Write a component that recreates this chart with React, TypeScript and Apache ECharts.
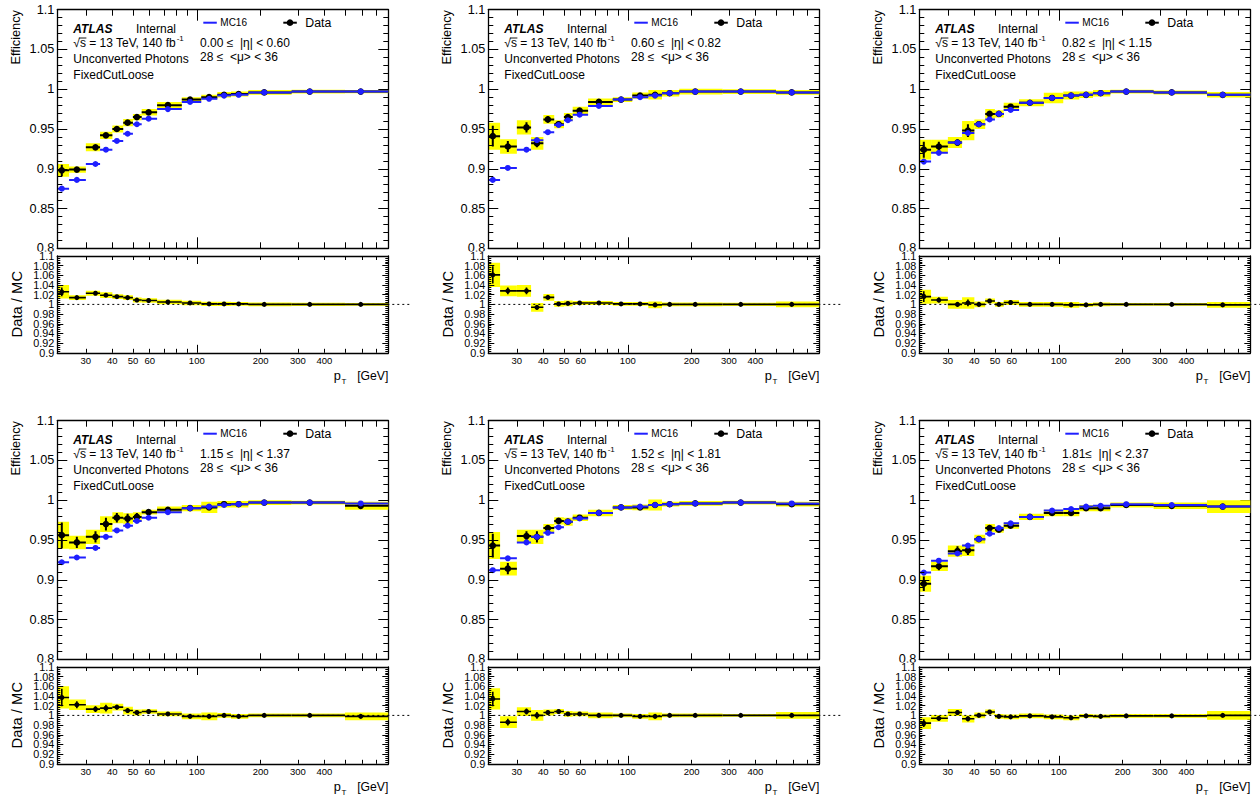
import React, { useEffect, useRef } from 'react';
import * as echarts from 'echarts';

// ---------------- data ----------------
const PT_EDGES = [22, 25, 30, 35, 40, 45, 50, 55, 65, 85, 105, 125, 145, 175, 280, 500, 800];
const PT_MEAN = [23.1, 27.2, 33.3, 37.3, 42.0, 47.2, 52.2, 59.3, 73.1, 93.0, 114.3, 134.5, 157.6, 208, 341, 593];
const X_MIN = 22;
const X_MAX = 800;
const X_TICK_LABELS = [30, 40, 50, 60, 100, 200, 300, 400];
const X_MINOR_TICKS = [30, 40, 50, 60, 70, 80, 90, 200, 300, 400, 500, 600, 700];
const X_MAJOR_TICKS = [100];
const DOTTED_LINE_X = [22, 1015];
const RATIO_LABELS_A = [0.9, 0.94, 0.98, 1.02, 1.06, 1.1];
const RATIO_LABELS_B = [0.92, 0.96, 1, 1.04, 1.08];

const ETA_LABELS = [
  '0.00 \u2264  |\u03b7| < 0.60',
  '0.60 \u2264  |\u03b7| < 0.82',
  '0.82 \u2264  |\u03b7| < 1.15',
  '1.15 \u2264  |\u03b7| < 1.37',
  '1.52 \u2264  |\u03b7| < 1.81',
  '1.81\u2264  |\u03b7| < 2.37',
];

const DATA_EFF = [
  [0.898, 0.899, 0.927, 0.942, 0.950, 0.958, 0.965, 0.971, 0.980, 0.987, 0.990, 0.993, 0.994, 0.996, 0.997, 0.997],
  [0.941, 0.928, 0.952, 0.932, 0.962, 0.956, 0.965, 0.973, 0.984, 0.987, 0.992, 0.993, 0.995, 0.997, 0.997, 0.996],
  [0.924, 0.928, 0.933, 0.948, 0.956, 0.969, 0.969, 0.978, 0.983, 0.989, 0.992, 0.993, 0.995, 0.997, 0.996, 0.993],
  [0.956, 0.947, 0.954, 0.970, 0.978, 0.977, 0.979, 0.985, 0.988, 0.990, 0.991, 0.995, 0.995, 0.997, 0.997, 0.993],
  [0.943, 0.914, 0.955, 0.954, 0.965, 0.974, 0.973, 0.978, 0.984, 0.991, 0.991, 0.994, 0.995, 0.996, 0.997, 0.995],
  [0.895, 0.917, 0.936, 0.937, 0.951, 0.965, 0.963, 0.968, 0.979, 0.984, 0.984, 0.990, 0.990, 0.994, 0.993, 0.992],
];
const DATA_STAT = [
  [0.007, 0.003, 0.003, 0.003, 0.002, 0.002, 0.002, 0.002, 0.002, 0.001, 0.001, 0.001, 0.001, 0.001, 0.001, 0.001],
  [0.013, 0.007, 0.0065, 0.005, 0.004, 0.003, 0.003, 0.002, 0.002, 0.001, 0.001, 0.001, 0.001, 0.001, 0.001, 0.001],
  [0.010, 0.006, 0.004, 0.008, 0.003, 0.003, 0.002, 0.002, 0.002, 0.001, 0.001, 0.001, 0.001, 0.001, 0.001, 0.001],
  [0.016, 0.007, 0.007, 0.008, 0.006, 0.006, 0.005, 0.002, 0.002, 0.002, 0.002, 0.001, 0.001, 0.001, 0.001, 0.002],
  [0.015, 0.007, 0.006, 0.007, 0.004, 0.003, 0.003, 0.002, 0.002, 0.001, 0.002, 0.002, 0.001, 0.001, 0.001, 0.001],
  [0.009, 0.005, 0.006, 0.006, 0.003, 0.003, 0.003, 0.002, 0.002, 0.002, 0.002, 0.001, 0.001, 0.001, 0.001, 0.002],
];
const DATA_SYST = [
  [0.008, 0.004, 0.005, 0.0045, 0.0045, 0.0045, 0.004, 0.004, 0.004, 0.003, 0.003, 0.0035, 0.003, 0.003, 0.0025, 0.002],
  [0.017, 0.009, 0.009, 0.008, 0.0055, 0.005, 0.005, 0.005, 0.0045, 0.003, 0.004, 0.006, 0.004, 0.0035, 0.003, 0.003],
  [0.0125, 0.0085, 0.007, 0.012, 0.006, 0.006, 0.0045, 0.005, 0.0045, 0.0065, 0.005, 0.004, 0.004, 0.0025, 0.0025, 0.0035],
  [0.017, 0.0085, 0.009, 0.010, 0.007, 0.0065, 0.006, 0.003, 0.004, 0.004, 0.007, 0.004, 0.004, 0.003, 0.0025, 0.005],
  [0.017, 0.0085, 0.008, 0.009, 0.005, 0.0045, 0.005, 0.004, 0.004, 0.003, 0.0035, 0.007, 0.003, 0.003, 0.0025, 0.003],
  [0.010, 0.006, 0.007, 0.007, 0.0055, 0.005, 0.004, 0.004, 0.004, 0.004, 0.004, 0.004, 0.004, 0.003, 0.004, 0.008],
];
const MC_EFF = [
  [0.875, 0.886, 0.906, 0.924, 0.935, 0.944, 0.956, 0.963, 0.975, 0.984, 0.988, 0.992, 0.993, 0.996, 0.997, 0.997],
  [0.886, 0.901, 0.924, 0.936, 0.946, 0.955, 0.961, 0.968, 0.979, 0.987, 0.990, 0.992, 0.995, 0.997, 0.997, 0.996],
  [0.909, 0.920, 0.933, 0.945, 0.956, 0.962, 0.969, 0.974, 0.983, 0.989, 0.992, 0.993, 0.995, 0.997, 0.996, 0.993],
  [0.922, 0.928, 0.940, 0.954, 0.962, 0.968, 0.974, 0.978, 0.985, 0.990, 0.992, 0.994, 0.995, 0.997, 0.997, 0.996],
  [0.912, 0.927, 0.947, 0.954, 0.959, 0.966, 0.973, 0.977, 0.984, 0.991, 0.992, 0.994, 0.995, 0.996, 0.997, 0.996],
  [0.909, 0.924, 0.933, 0.943, 0.951, 0.958, 0.965, 0.971, 0.979, 0.987, 0.989, 0.992, 0.993, 0.995, 0.994, 0.992],
];
const RATIO = [
  [1.026, 1.014, 1.023, 1.019, 1.016, 1.014, 1.009, 1.008, 1.005, 1.003, 1.001, 1.001, 1.001, 1.0, 1.0, 1.0],
  [1.061, 1.028, 1.028, 0.994, 1.0145, 1.001, 1.002, 1.003, 1.003, 1.001, 1.001, 0.999, 1.0, 1.0, 1.0, 1.0],
  [1.016, 1.009, 1.0, 1.003, 1.0, 1.007, 1.0, 1.004, 1.0, 1.0, 0.999, 0.999, 1.0, 1.0, 1.0, 0.999],
  [1.037, 1.022, 1.013, 1.015, 1.017, 1.010, 1.006, 1.008, 1.003, 0.998, 0.998, 1.0, 0.998, 1.0, 1.0, 0.998],
  [1.034, 0.986, 1.008, 1.0, 1.006, 1.008, 1.003, 1.003, 1.0, 1.0, 0.998, 0.998, 1.0, 1.0, 1.0, 1.0],
  [0.984, 0.994, 1.006, 0.993, 1.0, 1.007, 0.998, 0.997, 0.999, 0.997, 0.995, 0.999, 0.998, 0.999, 0.999, 1.0],
];
const RATIO_STAT = [
  [0.009, 0.003, 0.003, 0.003, 0.002, 0.002, 0.002, 0.002, 0.002, 0.001, 0.001, 0.001, 0.001, 0.001, 0.001, 0.001],
  [0.018, 0.007, 0.007, 0.005, 0.004, 0.003, 0.003, 0.002, 0.002, 0.001, 0.001, 0.001, 0.001, 0.001, 0.001, 0.001],
  [0.011, 0.005, 0.005, 0.007, 0.004, 0.003, 0.002, 0.002, 0.002, 0.001, 0.001, 0.001, 0.001, 0.001, 0.001, 0.001],
  [0.018, 0.007, 0.006, 0.007, 0.005, 0.004, 0.003, 0.002, 0.002, 0.002, 0.002, 0.001, 0.001, 0.001, 0.001, 0.002],
  [0.015, 0.007, 0.006, 0.007, 0.004, 0.003, 0.003, 0.002, 0.002, 0.001, 0.002, 0.002, 0.001, 0.001, 0.001, 0.001],
  [0.008, 0.005, 0.005, 0.005, 0.003, 0.003, 0.003, 0.002, 0.002, 0.002, 0.002, 0.001, 0.001, 0.001, 0.001, 0.002],
];
const RATIO_SYST = [
  [0.014, 0.005, 0.005, 0.006, 0.005, 0.005, 0.005, 0.0045, 0.0045, 0.0045, 0.0045, 0.0045, 0.004, 0.004, 0.0035, 0.003],
  [0.025, 0.011, 0.012, 0.009, 0.007, 0.006, 0.006, 0.004, 0.004, 0.004, 0.004, 0.007, 0.004, 0.004, 0.0035, 0.006],
  [0.0145, 0.007, 0.009, 0.012, 0.006, 0.005, 0.005, 0.005, 0.005, 0.005, 0.006, 0.004, 0.004, 0.003, 0.003, 0.006],
  [0.023, 0.011, 0.008, 0.011, 0.007, 0.008, 0.006, 0.0045, 0.005, 0.006, 0.008, 0.005, 0.005, 0.004, 0.004, 0.008],
  [0.022, 0.012, 0.009, 0.011, 0.006, 0.005, 0.006, 0.005, 0.006, 0.004, 0.005, 0.008, 0.004, 0.004, 0.003, 0.007],
  [0.012, 0.007, 0.007, 0.0075, 0.006, 0.005, 0.005, 0.005, 0.005, 0.005, 0.005, 0.004, 0.004, 0.004, 0.004, 0.009],
];

// ---------------- layout & style ----------------
const FONT = '"Liberation Sans", Arial, Helvetica, sans-serif';
const BLUE = '#1f1fff';
const YELLOW = '#ffff00';
const PANEL_LEFT = [57.3, 488.3, 919.3];
const ROW_TOP = [9.7, 420.7];
const PLOT_W = 331;
const MAIN_H = 238.6;
const RATIO_OFF = 246.3;
const RATIO_H = 96.8;

const fmtNum = (v: number) => String(parseFloat(Number(v).toFixed(3)));

function measure(text: string, size: number, extra = '') {
  try {
    const ctx = document.createElement('canvas').getContext('2d');
    if (!ctx) return text.length * size * 0.55;
    ctx.font = `${extra} ${size}px ${FONT}`;
    return ctx.measureText(text).width;
  } catch (e) {
    return text.length * size * 0.55;
  }
}

function buildOption() {
  const grid: any[] = [];
  const xAxis: any[] = [];
  const yAxis: any[] = [];
  const series: any[] = [];
  const elements: any[] = [];

  const lumiText = '\u221as = 13 TeV, 140 fb';
  const lumiW = measure(lumiText, 12);
  const sqrtW = measure('\u221a', 12);
  const sW = measure('s', 12);

  for (let p = 0; p < 6; p++) {
    const c = p % 3;
    const r = Math.floor(p / 3);
    const L = PANEL_LEFT[c];
    const T = ROW_TOP[r];

    for (const isMain of [true, false]) {
      const g = grid.length;
      grid.push({
        left: L,
        top: isMain ? T : T + RATIO_OFF,
        width: PLOT_W,
        height: isMain ? MAIN_H : RATIO_H,
        containLabel: false,
        outerBoundsMode: 'none',
      });
      const xi = xAxis.length;
      const xBase = {
        type: 'log',
        logBase: 10,
        min: X_MIN,
        max: X_MAX,
        gridIndex: g,
        splitLine: { show: false },
        minorSplitLine: { show: false },
        axisLine: { show: true, onZero: false, lineStyle: { color: '#000', width: 1.3 } },
        axisLabel: { show: false },
      };
      const minorTick = {
        show: true,
        inside: true,
        customValues: X_MINOR_TICKS,
        length: isMain ? 6 : 4,
        lineStyle: { color: '#000', width: 1 },
      };
      const majorTick = {
        show: true,
        inside: true,
        customValues: X_MAJOR_TICKS,
        length: isMain ? 11 : 8,
        lineStyle: { color: '#000', width: 1 },
      };
      xAxis.push({
        ...xBase,
        position: 'bottom',
        axisTick: minorTick,
        axisLabel: isMain
          ? { show: false }
          : {
              show: true,
              customValues: X_TICK_LABELS,
              formatter: (v: number) => String(Math.round(v)),
              fontSize: 9.5,
              color: '#000',
              fontFamily: FONT,
              margin: 3,
            },
      });
      xAxis.push({ ...xBase, position: 'top', axisTick: minorTick });
      xAxis.push({ ...xBase, position: 'bottom', axisLine: { show: false }, axisTick: majorTick });
      xAxis.push({ ...xBase, position: 'top', axisLine: { show: false }, axisTick: majorTick });

      const yi = yAxis.length;
      const yBase = {
        type: 'value',
        gridIndex: g,
        min: isMain ? 0.8 : 0.9,
        max: 1.1,
        interval: isMain ? 0.05 : 0.02,
        splitLine: { show: false },
        minorSplitLine: { show: false },
        axisLine: { show: true, onZero: false, lineStyle: { color: '#000', width: 1.3 } },
        axisTick: { show: true, inside: true, length: isMain ? 10 : 6, lineStyle: { color: '#000', width: 1 } },
        minorTick: { show: true, splitNumber: 5, length: isMain ? 5 : 3, lineStyle: { color: '#000', width: 1 } },
      };
      const labelStyle = {
        show: true,
        showMinLabel: true,
        showMaxLabel: true,
        hideOverlap: false,
        formatter: fmtNum,
        fontSize: isMain ? 12.7 : 10.8,
        color: '#000',
        fontFamily: FONT,
        margin: 3,
      };
      yAxis.push({
        ...yBase,
        position: 'left',
        z: isMain ? 2 : 6,
        axisLabel: isMain ? labelStyle : { ...labelStyle, customValues: RATIO_LABELS_A },
      });
      yAxis.push({ ...yBase, position: 'right', axisLabel: { show: false } });
      if (!isMain) {
        // second label layer so that every 0.02 step keeps its label
        yAxis.push({
          ...yBase,
          position: 'left',
          z: 6,
          axisLine: { show: false },
          axisTick: { show: false },
          minorTick: { show: false },
          axisLabel: { ...labelStyle, customValues: RATIO_LABELS_B },
        });
      }

      const eff = isMain ? DATA_EFF[p] : RATIO[p];
      const syst = isMain ? DATA_SYST[p] : RATIO_SYST[p];
      const stat = isMain ? DATA_STAT[p] : RATIO_STAT[p];

      // systematic boxes
      series.push({
        type: 'custom',
        xAxisIndex: xi,
        yAxisIndex: yi,
        clip: true,
        silent: true,
        encode: { x: [0, 1], y: 2 },
        data: eff.map((v, i) => [PT_EDGES[i], PT_EDGES[i + 1], v, syst[i]]),
        renderItem: (params: any, api: any) => {
          const lo = api.value(0);
          const hi = api.value(1);
          const y = api.value(2);
          const e = api.value(3);
          const a = api.coord([lo, y + e]);
          const b = api.coord([hi, y - e]);
          return {
            type: 'rect',
            shape: { x: a[0], y: a[1], width: b[0] - a[0], height: b[1] - a[1] },
            style: { fill: YELLOW },
          };
        },
      });

      if (!isMain) {
        // dotted reference line at 1, running a little past the frame
        series.push({
          type: 'custom',
          xAxisIndex: xi,
          yAxisIndex: yi,
          clip: false,
          silent: true,
          encode: { x: [0, 1], y: 2 },
          data: [[DOTTED_LINE_X[0], DOTTED_LINE_X[1], 1]],
          renderItem: (params: any, api: any) => {
            const a = api.coord([api.value(0), api.value(2)]);
            const b = api.coord([api.value(1), api.value(2)]);
            return {
              type: 'line',
              shape: { x1: a[0], y1: a[1], x2: b[0], y2: b[1] },
              style: { stroke: '#000', lineWidth: 1, lineDash: [2, 3] },
            };
          },
        });
      }

      // data points
      const rMark = isMain ? 3.3 : 2.5;
      const lw = isMain ? 2 : 1.6;
      series.push({
        type: 'custom',
        xAxisIndex: xi,
        yAxisIndex: yi,
        clip: true,
        silent: true,
        encode: { x: [0, 1, 2], y: 3 },
        data: eff.map((v, i) => [PT_EDGES[i], PT_EDGES[i + 1], PT_MEAN[i], v, stat[i]]),
        renderItem: (params: any, api: any) => {
          const lo = api.value(0);
          const hi = api.value(1);
          const x = api.value(2);
          const y = api.value(3);
          const e = api.value(4);
          const pl = api.coord([lo, y]);
          const pr = api.coord([hi, y]);
          const pc = api.coord([x, y]);
          const pt = api.coord([x, y + e]);
          const pb = api.coord([x, y - e]);
          return {
            type: 'group',
            children: [
              { type: 'line', shape: { x1: pl[0], y1: pl[1], x2: pr[0], y2: pr[1] }, style: { stroke: '#000', lineWidth: lw } },
              { type: 'line', shape: { x1: pt[0], y1: pt[1], x2: pb[0], y2: pb[1] }, style: { stroke: '#000', lineWidth: lw } },
              { type: 'circle', shape: { cx: pc[0], cy: pc[1], r: rMark }, style: { fill: '#000' } },
            ],
          };
        },
      });

      if (isMain) {
        series.push({
          type: 'custom',
          xAxisIndex: xi,
          yAxisIndex: yi,
          clip: true,
          silent: true,
          encode: { x: [0, 1, 2], y: 3 },
          data: MC_EFF[p].map((v, i) => [PT_EDGES[i], PT_EDGES[i + 1], PT_MEAN[i], v]),
          renderItem: (params: any, api: any) => {
            const lo = api.value(0);
            const hi = api.value(1);
            const x = api.value(2);
            const y = api.value(3);
            const pl = api.coord([lo, y]);
            const pr = api.coord([hi, y]);
            const pc = api.coord([x, y]);
            return {
              type: 'group',
              children: [
                { type: 'line', shape: { x1: pl[0], y1: pl[1], x2: pr[0], y2: pr[1] }, style: { stroke: BLUE, lineWidth: 2 } },
                { type: 'circle', shape: { cx: pc[0], cy: pc[1], r: 3 }, style: { fill: BLUE } },
              ],
            };
          },
        });
      }
    }

    // ---- annotations for the panel ----
    const txt = (x: number, y: number, text: string, extra: any = {}) => ({
      type: 'text',
      x,
      y,
      silent: true,
      style: { text, fill: '#000', fontFamily: FONT, fontSize: 12, align: 'left', verticalAlign: 'middle', ...extra },
    });
    // the lower pad is opaque: it hides the lower half of the upper pad's "0.8"
    elements.push({
      type: 'rect',
      silent: true,
      z: 4,
      shape: { x: L - 40, y: T + RATIO_OFF - 4.6, width: 38.5, height: 6 },
      style: { fill: '#fff' },
    });
    const X0 = L + 16;
    elements.push(txt(X0, T + 19.3, 'ATLAS', { fontWeight: 'bold', fontStyle: 'italic' }));
    elements.push(txt(L + 78.7, T + 19.3, 'Internal'));
    elements.push(txt(X0, T + 33.6, lumiText));
    elements.push({
      type: 'line',
      silent: true,
      shape: { x1: X0 + sqrtW - 1, y1: T + 28.3, x2: X0 + sqrtW + sW + 0.5, y2: T + 28.3 },
      style: { stroke: '#000', lineWidth: 0.9 },
    });
    elements.push(txt(X0 + lumiW + 0.8, T + 29, '-1', { fontSize: 8 }));
    elements.push(txt(L + 142.7, T + 33.6, ETA_LABELS[p]));
    elements.push(txt(X0, T + 49.3, 'Unconverted Photons'));
    elements.push(txt(L + 142.7, T + 47.6, '28 \u2264  <\u03bc> < 36'));
    elements.push(txt(X0, T + 65.3, 'FixedCutLoose'));
    // legend
    elements.push({
      type: 'line',
      silent: true,
      shape: { x1: L + 146, y1: T + 13, x2: L + 159.5, y2: T + 13 },
      style: { stroke: BLUE, lineWidth: 2 },
    });
    elements.push(txt(L + 163, T + 12.7, 'MC16', { fontSize: 10 }));
    elements.push({
      type: 'line',
      silent: true,
      shape: { x1: L + 226, y1: T + 13, x2: L + 239.5, y2: T + 13 },
      style: { stroke: '#000', lineWidth: 2 },
    });
    elements.push({
      type: 'circle',
      silent: true,
      shape: { cx: L + 232.7, cy: T + 13, r: 3.3 },
      style: { fill: '#000' },
    });
    elements.push(txt(L + 248, T + 13, 'Data', { fontSize: 12.3 }));
    // axis titles
    elements.push({
      type: 'text',
      x: L - 42.3,
      y: T + 0.3,
      rotation: Math.PI / 2,
      silent: true,
      style: { text: 'Efficiency', fill: '#000', fontFamily: FONT, fontSize: 12.8, align: 'right', verticalAlign: 'middle' },
    });
    elements.push({
      type: 'text',
      x: L - 40.3,
      y: T + RATIO_OFF + RATIO_H / 2 - 0.2,
      rotation: Math.PI / 2,
      silent: true,
      style: { text: 'Data / MC', fill: '#000', fontFamily: FONT, fontSize: 14.8, align: 'center', verticalAlign: 'middle' },
    });
    const xr = L + PLOT_W;
    const ty = T + RATIO_OFF + RATIO_H + 23;
    elements.push(txt(xr, ty, '[GeV]', { fontSize: 12.2, align: 'right' }));
    const pStart = xr - 54.5;
    const pW = measure('p', 12.8);
    elements.push(txt(pStart, ty, 'p', { fontSize: 12.8 }));
    elements.push(txt(pStart + pW + 0.6, ty + 5.5, 'T', { fontSize: 8 }));
  }

  return {
    animation: false,
    backgroundColor: '#fff',
    grid,
    xAxis,
    yAxis,
    series,
    graphic: { elements },
  };
}

export default function App() {
  const ref = useRef<HTMLDivElement>(null);
  useEffect(() => {
    if (!ref.current) return;
    const chart = echarts.init(ref.current, null, { renderer: 'svg' });
    chart.setOption(buildOption() as any);
    return () => chart.dispose();
  }, []);
  return (
    <div
      ref={ref}
      style={{ position: 'fixed', left: 0, top: 0, width: 1260, height: 798, background: '#fff' }}
    />
  );
}
